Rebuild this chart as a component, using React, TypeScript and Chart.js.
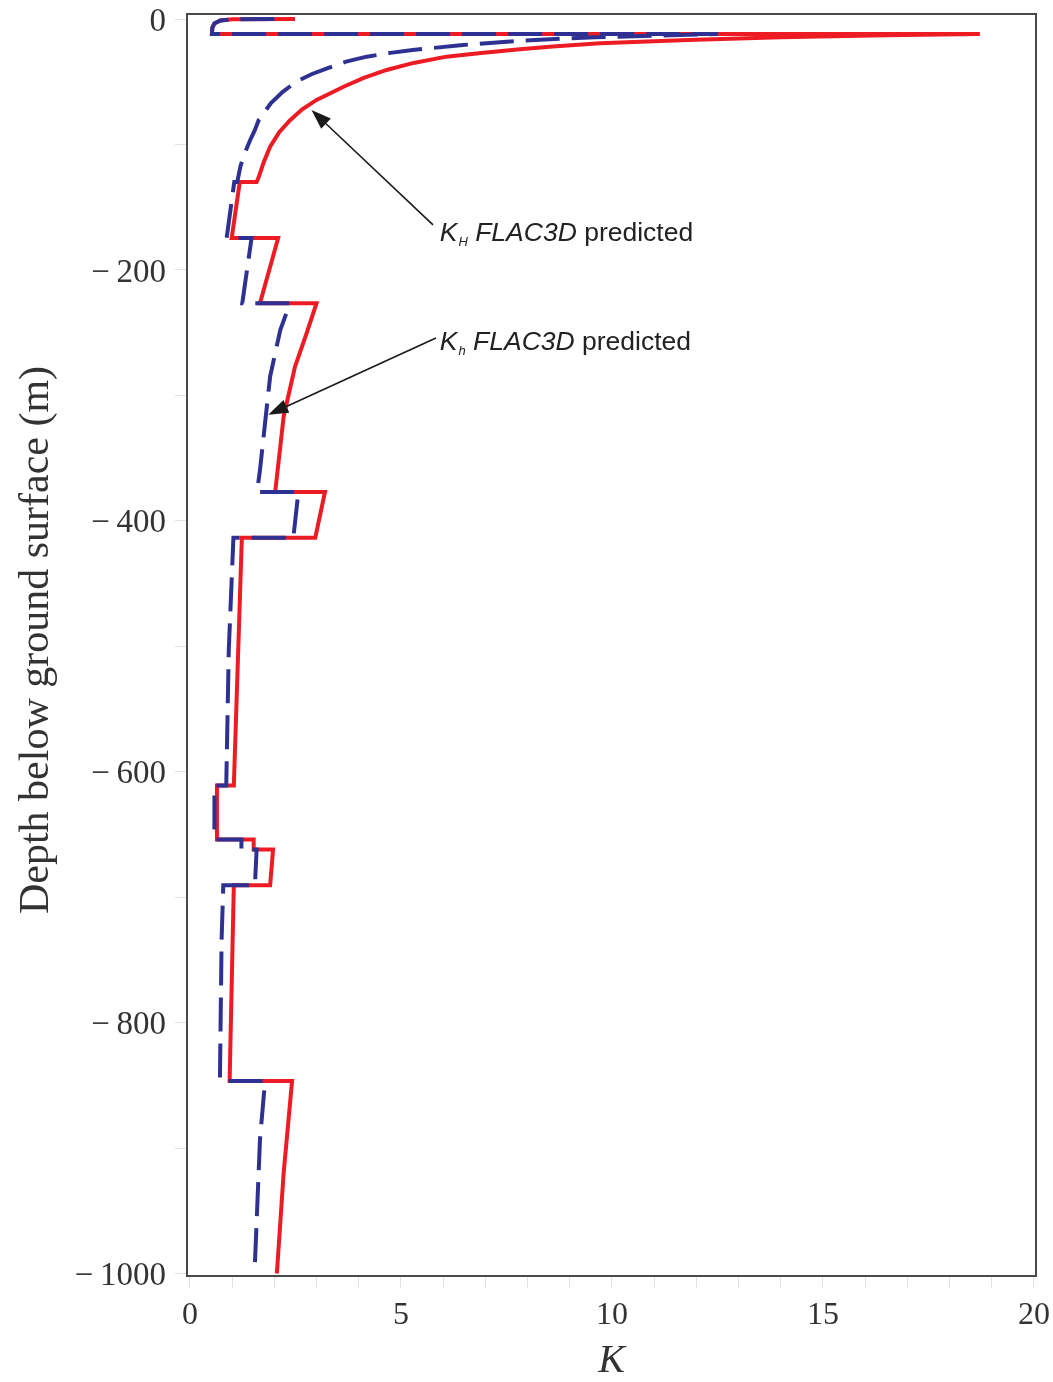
import React, { useEffect, useRef } from "react";
import { Chart, registerables } from "chart.js";

Chart.register(...registerables);

// K_H (FLAC3D predicted) – red solid
const kHK = [2.49, 1.0, 0.72, 0.58, 0.53, 0.52, 18.72, 16.5, 14.0, 11.8, 9.72, 8.6, 7.82, 6.9, 6.08, 5.3, 4.66, 4.12, 3.64, 3.28, 3.0, 2.66, 2.38, 2.12, 1.9, 1.75, 1.62, 1.58, 1.18, 0.99, 2.09, 1.66, 3.0, 2.77, 2.49, 2.22, 2.02, 3.2, 2.97, 1.23, 1.04, 0.64, 0.64, 1.51, 1.51, 1.97, 1.9, 1.04, 0.94, 2.42, 2.22, 2.06];
const kHDepth = [0, -0.2, -1.2, -3.5, -7, -12, -12, -13, -14.5, -16.8, -19.4, -22, -24.1, -27, -30, -35, -40.6, -47, -54, -60, -64.5, -72, -80.5, -90, -101.8, -114, -127, -130, -130, -174.5, -174.5, -226.5, -226.5, -250, -277, -317, -377, -377, -413.5, -413.5, -611, -611, -654, -654, -662, -662, -690.5, -690.5, -846.5, -846.5, -920, -1000];

// K_h (FLAC3D predicted) – blue dashed
const khK = [2.0, 1.0, 0.72, 0.58, 0.53, 0.52, 12.51, 11.4, 9.6, 7.82, 6.47, 5.28, 4.75, 4.19, 3.7, 3.25, 2.88, 2.52, 2.2, 1.92, 1.63, 1.54, 1.42, 1.3, 1.2, 1.12, 1.05, 0.87, 1.46, 1.24, 2.37, 2.14, 1.9, 1.78, 1.66, 1.59, 2.57, 2.45, 1.03, 0.92, 0.86, 0.58, 0.58, 1.22, 1.22, 1.58, 1.54, 0.79, 0.75, 0.71, 1.78, 1.66, 1.53];
const khDepth = [0, -0.2, -1.2, -3.5, -7, -12, -12, -13, -14.5, -17.3, -20.7, -24.7, -27, -30, -34, -39.3, -44, -50, -58, -67, -80.5, -88.4, -97, -106.8, -117, -130, -130, -174.5, -174.5, -226.5, -226.5, -248, -285, -322, -359.4, -377, -377, -413.5, -413.5, -503, -611, -611, -654, -654, -662, -662, -690.5, -690.5, -734, -846.5, -846.5, -893, -1000];

const xTickValues = [0, 1, 2, 3, 4, 5, 6, 7, 8, 9, 10, 11, 12, 13, 14, 15, 16, 17, 18, 19, 20];
const xTickLabels = [0, 5, 10, 15, 20];
const yTickValues = [-1000, -900, -800, -700, -600, -500, -400, -300, -200, -100, 0];
const yTickLabels = [0, -200, -400, -600, -800, -1000];
const xTitle = "K";
const yTitle = "Depth below ground surface (m)";

// annotations (data coordinates)
const labelMain = ["K", "K"];
const labelSub = ["H", "h"];
const labelRest = ["FLAC3D", "FLAC3D"];
const labelTail = ["predicted", "predicted"];
const labelK = [5.92, 5.92];
const labelDepth = [-176.9, -263.7];
const arrowTailK = [5.76, 5.83];
const arrowTailDepth = [-164.1, -254.2];
const arrowTipK = [2.88, 1.855];
const arrowTipDepth = [-72.5, -315.5];

const RED = "#ED1C24";
const BLUE = "#2E3192";
const SERIF = "'Liberation Serif', 'Times New Roman', serif";
const SANS = "'Liberation Sans', Arial, sans-serif";

const overlay = {
  id: "overlay",
  afterDraw(chart: any) {
    const { ctx, chartArea: a, scales } = chart;
    const xs = scales.x;
    const ys = scales.y;
    ctx.save();
    // frame
    ctx.strokeStyle = "#4a4a4a";
    ctx.lineWidth = 2;
    ctx.strokeRect(a.left, a.top, a.right - a.left, a.bottom - a.top);

    // arrows
    ctx.strokeStyle = "#1a1a1a";
    ctx.fillStyle = "#1a1a1a";
    for (let i = 0; i < arrowTailK.length; i++) {
      const x1 = xs.getPixelForValue(arrowTailK[i]);
      const y1 = ys.getPixelForValue(arrowTailDepth[i]);
      const x2 = xs.getPixelForValue(arrowTipK[i]);
      const y2 = ys.getPixelForValue(arrowTipDepth[i]);
      const ang = Math.atan2(y2 - y1, x2 - x1);
      const hl = 20;
      const hw = 7;
      const bx = x2 - hl * Math.cos(ang);
      const by = y2 - hl * Math.sin(ang);
      ctx.lineWidth = 1.6;
      ctx.beginPath();
      ctx.moveTo(x1, y1);
      ctx.lineTo(bx, by);
      ctx.stroke();
      ctx.beginPath();
      ctx.moveTo(x2, y2);
      ctx.lineTo(bx + hw * Math.sin(ang), by - hw * Math.cos(ang));
      ctx.lineTo(bx - hw * Math.sin(ang), by + hw * Math.cos(ang));
      ctx.closePath();
      ctx.fill();
    }

    // labels
    ctx.fillStyle = "#222";
    ctx.textAlign = "left";
    ctx.textBaseline = "alphabetic";
    for (let i = 0; i < labelK.length; i++) {
      let x = xs.getPixelForValue(labelK[i]);
      const y = ys.getPixelForValue(labelDepth[i]);
      ctx.font = `italic 26.5px ${SANS}`;
      const sp = ctx.measureText(" ").width;
      ctx.fillText(labelMain[i], x, y);
      x += ctx.measureText(labelMain[i]).width;
      ctx.font = `italic 13px ${SANS}`;
      ctx.fillText(labelSub[i], x + 1, y + 5);
      x += 1 + ctx.measureText(labelSub[i]).width + sp;
      ctx.font = `italic 26.5px ${SANS}`;
      ctx.fillText(labelRest[i], x, y);
      x += ctx.measureText(labelRest[i]).width + sp;
      ctx.font = `26.5px ${SANS}`;
      ctx.fillText(labelTail[i], x, y);
    }

    // axis titles
    ctx.fillStyle = "#333";
    ctx.font = `italic 40px ${SERIF}`;
    ctx.textAlign = "center";
    ctx.fillText(xTitle, (a.left + a.right) / 2, chart.height - 10);
    ctx.save();
    ctx.translate(48, (a.top + a.bottom) / 2 - 5);
    ctx.rotate(-Math.PI / 2);
    ctx.font = `42px ${SERIF}`;
    ctx.textAlign = "center";
    ctx.fillText(yTitle, 0, 0);
    ctx.restore();
    ctx.restore();
  },
};

export default function App() {
  const ref = useRef<HTMLCanvasElement>(null);
  useEffect(() => {
    const canvas = ref.current!;
    const toPts = (ks: number[], ds: number[]) => ks.map((k, i) => ({ x: k, y: ds[i] }));
    const chart = new Chart(canvas, {
      type: "scatter",
      data: {
        datasets: [
          {
            label: "Kh FLAC3D predicted",
            data: toPts(khK, khDepth),
            showLine: true,
            borderColor: BLUE,
            backgroundColor: BLUE,
            borderWidth: 4,
            borderDash: [34, 12],
            borderCapStyle: "butt",
            borderJoinStyle: "miter",
            pointRadius: 0,
            tension: 0,
            fill: false,
            order: 0,
          } as any,
          {
            label: "KH FLAC3D predicted",
            data: toPts(kHK, kHDepth),
            showLine: true,
            borderColor: RED,
            backgroundColor: RED,
            borderWidth: 4,
            borderCapStyle: "butt",
            borderJoinStyle: "miter",
            pointRadius: 0,
            tension: 0,
            fill: false,
            order: 1,
          } as any,
        ],
      },
      options: {
        responsive: false,
        animation: false,
        devicePixelRatio: 1,
        layout: { padding: { left: 0, top: 14, right: 17, bottom: 0 } },
        plugins: { legend: { display: false }, tooltip: { enabled: false } },
        scales: {
          x: {
            type: "linear",
            min: -0.07,
            max: 20.05,
            afterBuildTicks: (s: any) => {
              s.ticks = xTickValues.map((v) => ({ value: v }));
            },
            afterFit: (s: any) => {
              s.height = 106;
              s.paddingLeft = 0;
              s.paddingRight = 0;
            },
            border: { display: false },
            grid: { display: true, drawOnChartArea: false, drawTicks: true, tickLength: 12, color: "#e2e2e2", lineWidth: 1 },
            ticks: {
              autoSkip: false,
              maxRotation: 0,
              padding: 8,
              color: "#333",
              font: { family: SERIF, size: 32 },
              callback: (v: any) => (xTickLabels.includes(Number(v)) ? String(v) : ""),
            },
          },
          y: {
            type: "linear",
            min: -1002,
            max: 4,
            afterBuildTicks: (s: any) => {
              s.ticks = yTickValues.map((v) => ({ value: v }));
            },
            afterFit: (s: any) => {
              s.width = 187;
              s.paddingTop = 0;
              s.paddingBottom = 0;
            },
            border: { display: false },
            grid: { display: true, drawOnChartArea: false, drawTicks: true, tickLength: 12, color: "#e2e2e2", lineWidth: 1 },
            ticks: {
              autoSkip: false,
              padding: 9,
              labelOffset: 3,
              color: "#333",
              font: { family: SERIF, size: 33 },
              callback: (v: any) => {
                const n = Number(v);
                if (!yTickLabels.includes(n)) return "";
                return n < 0 ? "\u2212\u2009" + String(-n) : String(n);
              },
            },
          },
        },
      },
      plugins: [overlay],
    } as any);
    return () => chart.destroy();
  }, []);
  return (
    <div style={{ position: "absolute", left: 0, top: 0, width: 1053, height: 1382, background: "#fff" }}>
      <canvas ref={ref} width={1053} height={1382} style={{ display: "block", width: 1053, height: 1382 }} />
    </div>
  );
}
